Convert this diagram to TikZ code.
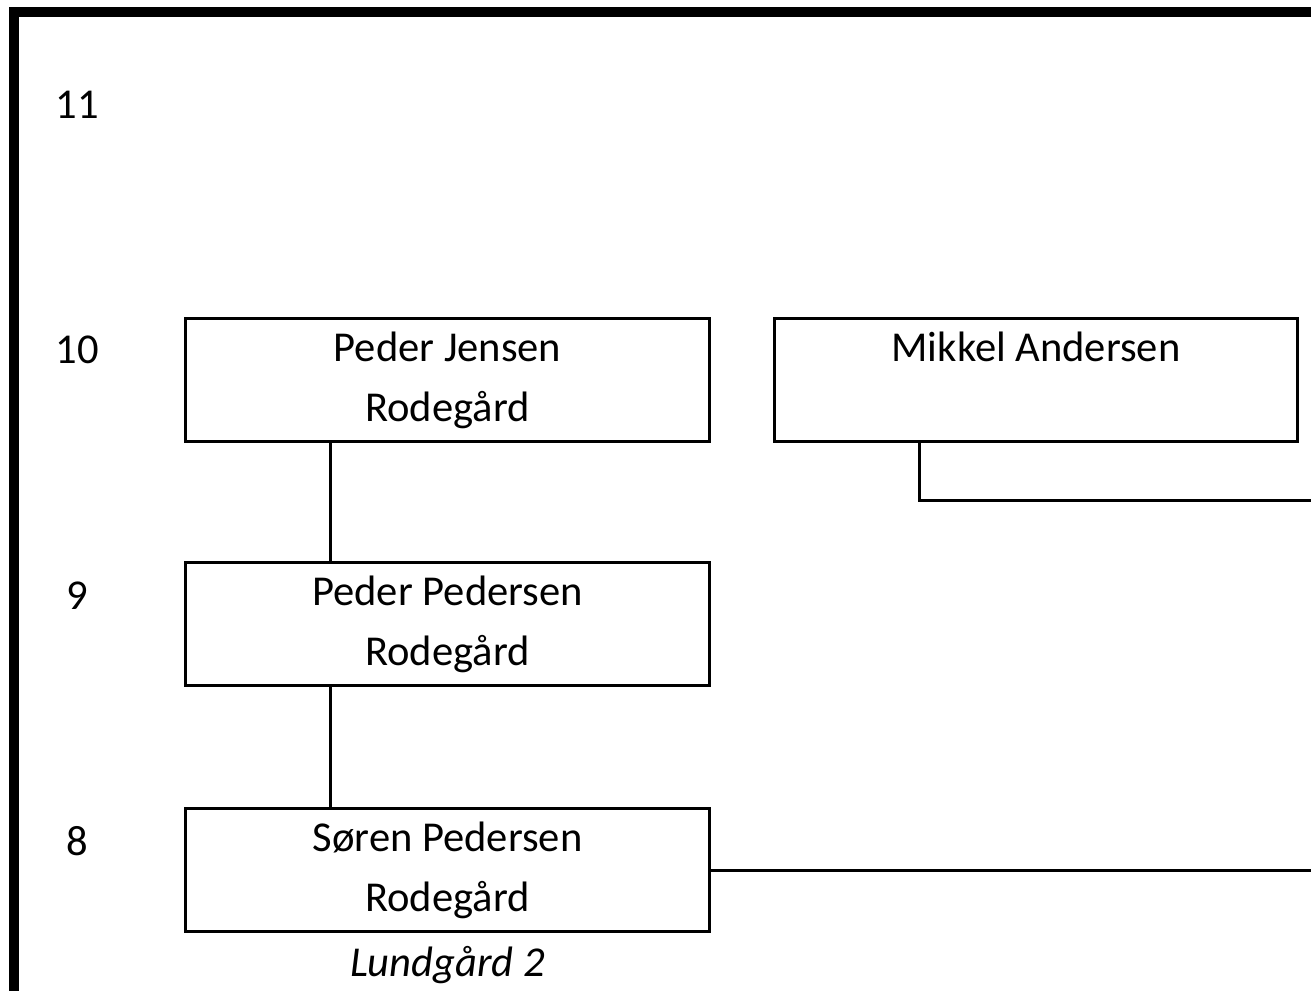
\documentclass[tikz,border=0pt]{standalone}
\usepackage{fontspec}
\setmainfont{Carlito}
\usetikzlibrary{positioning}
\tikzset{
  person/.style={draw=black, line width=0.85pt, rectangle, inner sep=0pt,
    minimum width=5.23cm, minimum height=1.23cm, align=center,
    font=\fontsize{12.1}{17.1}\selectfont},
  gen/.style={font=\fontsize{12.1}{14.5}\selectfont}
}
\begin{document}
\begin{tikzpicture}[x=0.01cm, y=-0.01cm]
    % Fix the page to the size of the scan.
    \useasboundingbox (0,0) rectangle (1311,990);
    \clip (0,0) rectangle (1311,990);
    % Draw the outer frame, which runs past the right and bottom edges.
    \draw[line width=2.85pt] (14,12) rectangle (1330,1010);
    % Draw the generation numbers.
    \node[gen] (g11) at (77,105) {11};
    \node[gen] (g10) at (77,350) {10};
    \node[gen] (g9) at (77,596) {9};
    \node[gen] (g8) at (77,841) {8};
    % Draw the persons.
    \node[person] (pj) at (447.5,380) {Peder Jensen\\Rodegård};
    \node[person] (ma) at (1036,380) {Mikkel Andersen\\\phantom{Rodegård}};
    \node[person] (pp) at (447.5,624) {Peder Pedersen\\Rodegård};
    \node[person] (sp) at (447.5,870) {Søren Pedersen\\Rodegård};
    \node[gen, font=\fontsize{12.1}{14.5}\selectfont\itshape, below=0.01cm of sp] (farm) {Lundgård 2};
    % Free ends of the lines leaving the picture.
    \coordinate (maEnd) at (1311,500);
    \coordinate (spEnd) at (1311,870);
    % Draw the lines between the persons.
    \draw[line width=0.85pt] ([xshift=1.46cm]pj.south west) -- ([xshift=1.46cm]pp.north west);
    \draw[line width=0.85pt] ([xshift=1.46cm]pp.south west) -- ([xshift=1.46cm]sp.north west);
    \draw[line width=0.85pt] ([xshift=1.47cm]ma.south west) |- (maEnd);
    \draw[line width=0.85pt] (sp.east) -- (spEnd);
  \end{tikzpicture}
\end{document}
